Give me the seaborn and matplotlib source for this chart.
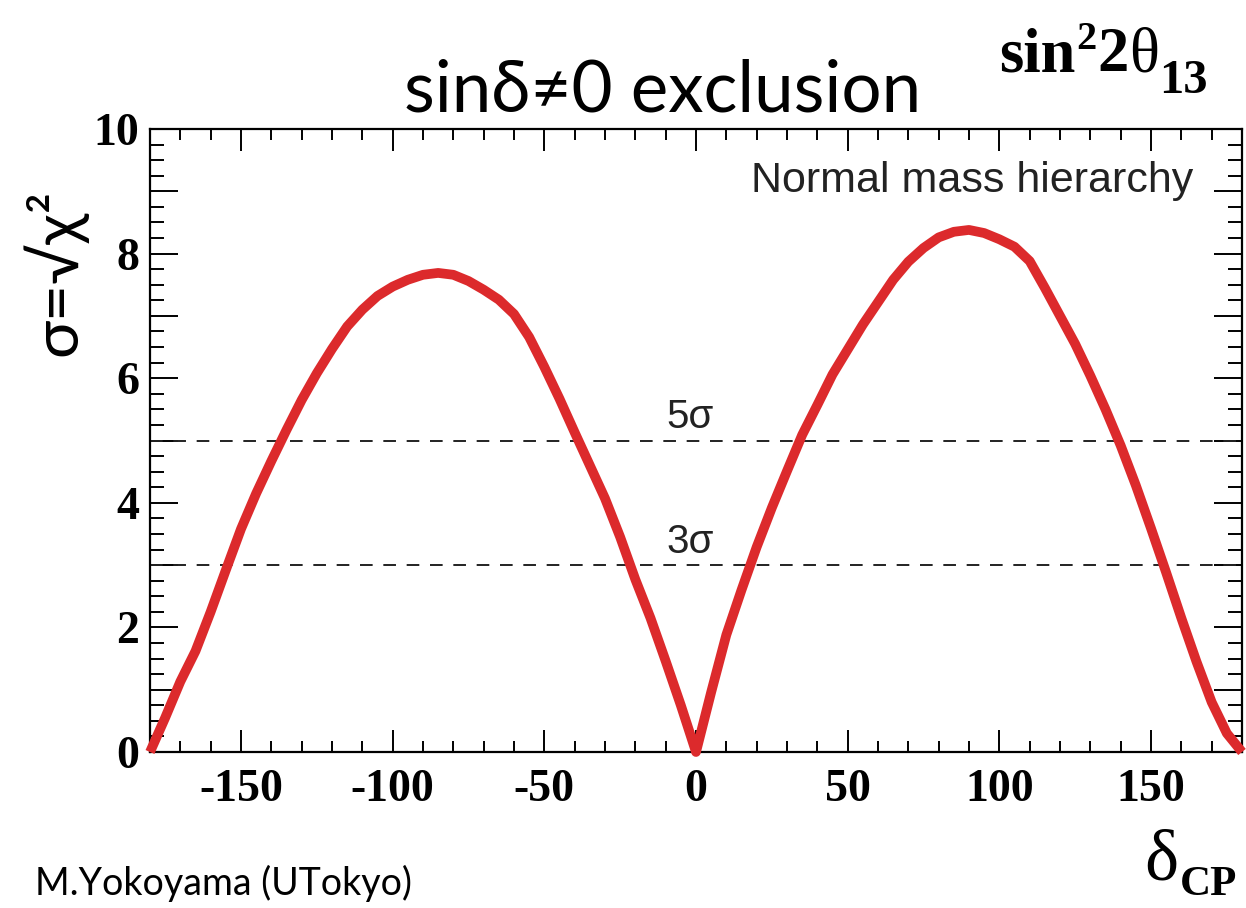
import numpy as np
import pandas as pd
import matplotlib
matplotlib.use("Agg")
import matplotlib.pyplot as plt
from matplotlib.ticker import MultipleLocator, FuncFormatter
import seaborn as sns

# ---- data ----
delta_cp = [-180, -175, -170, -165, -160, -155, -150, -145, -140, -135, -130, -125,
            -120, -115, -110, -105, -100, -95, -90, -85, -80, -75, -70, -65, -60,
            -55, -50, -45, -40, -35, -30, -25, -20, -15, -10, -5, 0,
            5, 10, 15, 20, 25, 30, 35, 40, 45, 50, 55, 60, 65, 70, 75, 80, 85,
            90, 95, 100, 105, 110, 115, 120, 125, 130, 135, 140, 145, 150, 155,
            160, 165, 170, 175, 180]
sigma = [0.0, 0.55, 1.13, 1.62, 2.25, 2.92, 3.58, 4.15, 4.67, 5.17, 5.65, 6.08,
         6.47, 6.83, 7.1, 7.32, 7.47, 7.58, 7.66, 7.69, 7.66, 7.56, 7.42, 7.26, 7.03,
         6.66, 6.18, 5.67, 5.13, 4.6, 4.07, 3.45, 2.77, 2.15, 1.46, 0.75, 0.0,
         0.96, 1.88, 2.6, 3.29, 3.92, 4.51, 5.09, 5.57, 6.06, 6.46, 6.86, 7.22, 7.58,
         7.87, 8.09, 8.26, 8.35, 8.38, 8.33, 8.23, 8.11, 7.88, 7.45, 7.0, 6.55, 6.04,
         5.5, 4.92, 4.28, 3.59, 2.88, 2.15, 1.45, 0.8, 0.3, 0.0]
sigma_levels = [3, 5]
level_labels = ["3σ", "5σ"]
x_range = [-180, 180]
y_range = [0, 10]

df = pd.DataFrame({"delta": delta_cp, "sigma": sigma})

sns.set_theme(style="ticks")
plt.rcParams["font.family"] = ["Liberation Serif", "DejaVu Serif"]
plt.rcParams["font.weight"] = "bold"
plt.rcParams["text.color"] = "black"
plt.rcParams["xtick.color"] = "black"
plt.rcParams["ytick.color"] = "black"
plt.rcParams["xtick.labelcolor"] = "black"
plt.rcParams["ytick.labelcolor"] = "black"

W, H = 1246, 908
fig = plt.figure(figsize=(W / 100, H / 100), dpi=100)
ax = fig.add_axes([150 / W, 1 - 752 / H, 1092 / W, 623 / H])

for lv in sigma_levels:
    ax.axhline(lv, color="#222222", lw=1.4, dashes=(6.5, 5.5), zorder=1)

sns.lineplot(data=df, x="delta", y="sigma", ax=ax, color="#dc2a2c", lw=7.0,
             sort=False, clip_on=False, zorder=3)
for line in ax.lines:
    line.set_solid_capstyle("butt")
    line.set_solid_joinstyle("round")

ax.set_xlim(*x_range)
ax.set_ylim(*y_range)
ax.set_xlabel("")
ax.set_ylabel("")

ax.xaxis.set_major_locator(MultipleLocator(50))
ax.xaxis.set_minor_locator(MultipleLocator(10))
ax.yaxis.set_major_locator(MultipleLocator(1))
ax.yaxis.set_minor_locator(MultipleLocator(0.25))
ax.yaxis.set_major_formatter(FuncFormatter(lambda v, p: f"{int(round(v))}" if int(round(v)) % 2 == 0 else ""))
ax.xaxis.set_major_formatter(FuncFormatter(lambda v, p: f"{int(round(v))}"))

ax.tick_params(axis="x", which="major", direction="in", length=16, width=1.4,
               top=True, bottom=True, labelsize=33, pad=12, color="black", labelcolor="black")
ax.tick_params(axis="x", which="minor", direction="in", length=8, width=1.4,
               top=True, bottom=True, color="black")
ax.tick_params(axis="y", which="major", direction="in", length=20, width=1.4,
               left=True, right=True, labelsize=33, pad=8, color="black", labelcolor="black")
ax.tick_params(axis="y", which="minor", direction="in", length=10, width=1.4,
               left=True, right=True, color="black")
for s in ax.spines.values():
    s.set_linewidth(1.6)
    s.set_color("black")
    s.set_visible(True)

# level labels
for lv, lab in zip(sigma_levels, level_labels):
    ax.text(-2, lv + 0.2, lab, ha="center", va="baseline", fontsize=29,
            family=["Liberation Sans", "DejaVu Sans"], weight="normal", color="#222222")

ax.text(0.955, 1 - (192 - 129) / 623, "Normal mass hierarchy", transform=ax.transAxes,
        ha="right", va="baseline", fontsize=31, family=["Liberation Sans", "DejaVu Sans"],
        weight="normal", color="#222222")

def px(x, y):
    return x / W, 1 - y / H

serif = ["Liberation Serif", "DejaVu Serif"]

# title
fig.text(*px(663, 112), "sinδ≠0 exclusion", ha="center", va="baseline",
         fontsize=51, family=["Lato", "DejaVu Sans"], weight="normal", color="black")

# sin^2 2theta_13 (top right), pieces chained left to right
renderer = fig.canvas.get_renderer()
pieces = [("sin", 45, "bold", 71, 0), ("2", 29, "bold", 49, 1), ("2", 45, "bold", 71, 1),
          ("θ", 45, "normal", 71, 0), ("13", 35, "bold", 93, 0)]
xcur = 999
for txt, size, wt, base, gap in pieces:
    t = fig.text(*px(xcur + gap, base), txt, ha="left", va="baseline", fontsize=size,
                 family=serif, weight=wt, color="black")
    bb = t.get_window_extent(renderer=renderer)
    xcur = bb.x1

# x-axis title delta_CP
fig.text(*px(1178, 880), "δ", ha="right", va="baseline", fontsize=52, family=serif, weight="normal")
fig.text(*px(1180, 895), "CP", ha="left", va="baseline", fontsize=31, family=serif, weight="bold")

# y-axis title
fig.text(*px(55, 272), "σ=√χ²", rotation=90, ha="center", va="center",
         fontsize=46, family=["Lato", "DejaVu Sans"], weight="normal", color="black")

# author
fig.text(*px(35, 895), "M.Yokoyama (UTokyo)", ha="left", va="baseline",
         fontsize=27, family=["Lato", "DejaVu Sans"], weight="normal", color="black")

fig.savefig("out.png", dpi=100)
